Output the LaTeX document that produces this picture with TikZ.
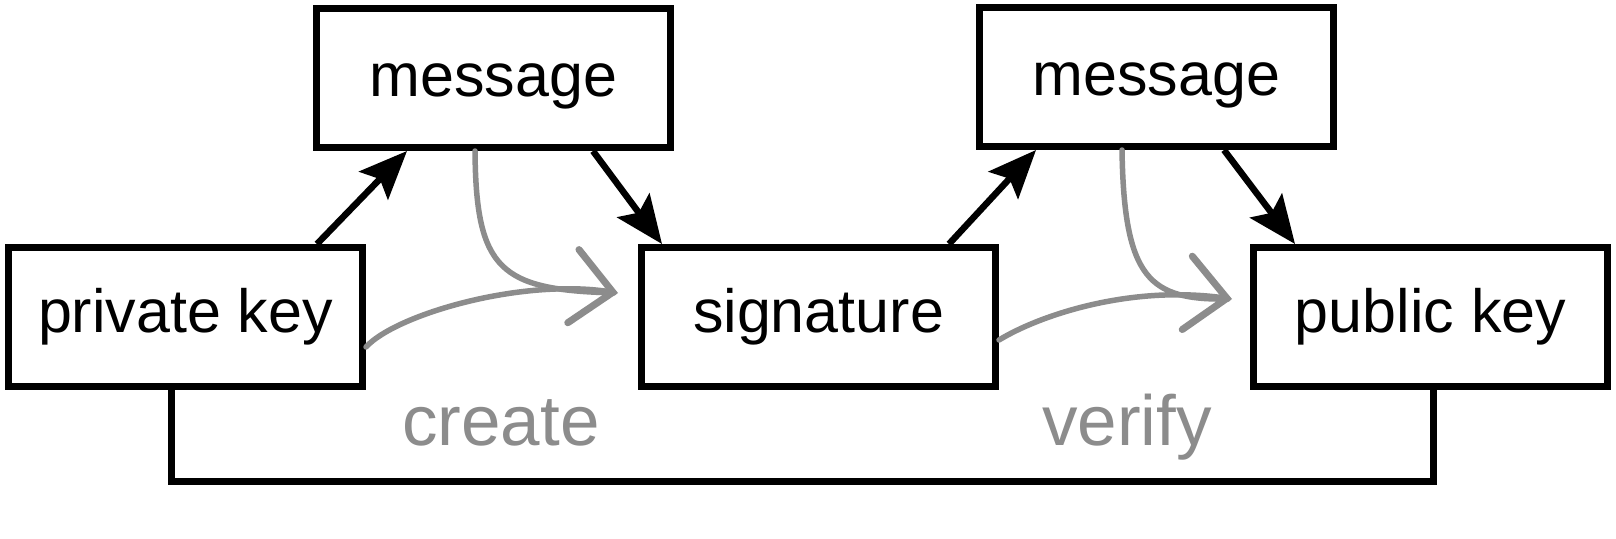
\documentclass[tikz,border=0pt]{standalone}
\usepackage{fontspec}
\setmainfont{Liberation Sans}
\usetikzlibrary{arrows.meta}
\definecolor{gcol}{RGB}{140,140,140}
\tikzset{
  boxnode/.style={draw=black, line width=7pt, minimum width=354pt, minimum height=139pt, inner sep=0pt,
    font=\fontsize{61}{70}\selectfont, text height=46pt, text depth=15pt},
  blackarrow/.style={line width=6.5pt, -{Stealth[length=48pt,width=40pt,inset=9pt]}},
  grayline/.style={draw=gcol, line width=5.5pt, line cap=round},
  grayarrow/.style={grayline, -{Straight Barb[length=40pt,width=74pt,line cap=round, line width=7pt]}},
  graylabel/.style={text=gcol, font=\fontsize{71}{80}\selectfont, anchor=base, inner sep=0pt},
  frameline/.style={line width=7pt}
}
\begin{document}
\begin{tikzpicture}[x=1pt,y=1pt]
\useasboundingbox (0,0) rectangle (1616,-538);
\fill[white] (0,0) rectangle (1616,-538);

\node[boxnode] (pk)   at (185.5,-317) {private key};
\node[boxnode, text height=50pt, text depth=14pt] (m1)   at (493.5,-78)  {message};
\node[boxnode] (sig)  at (818.5,-317) {signature};
\node[boxnode, text height=50pt, text depth=14pt] (m2)   at (1156.5,-77) {message};
\node[boxnode] (pubk) at (1430.5,-317) {public key};

% black arrows
\draw[blackarrow] ([xshift=131.5pt]pk.north) -- ([xshift=-86.5pt]m1.south);
\draw[blackarrow] ([xshift=99.5pt]m1.south) -- ([xshift=-156.5pt]sig.north);
\draw[blackarrow] ([xshift=130.5pt]sig.north) -- ([xshift=-120.5pt]m2.south);
\draw[blackarrow] ([xshift=67.5pt]m2.south) -- ([xshift=-135.5pt]pubk.north);

% frame line below
\draw[frameline] ([xshift=-14.5pt]pk.south) -- ++(0,-91.5) -| ([xshift=2.5pt]pubk.south);

% gray create curves
\coordinate (ctip) at (618,-293);
\draw[grayline, shorten >=4pt] ([xshift=-18.5pt]m1.south) .. controls (476,-270) and (500,-290) .. (ctip);
\draw[grayarrow] ([yshift=-30pt]pk.east) .. controls (395,-315) and (520,-278) .. (ctip);

% gray verify curves
\coordinate (vtip) at (1232,-299);
\draw[grayline, shorten >=4pt] ([xshift=-34.5pt]m2.south) .. controls (1124,-280) and (1150,-300) .. (vtip);
\draw[grayarrow] ([yshift=-23pt]sig.east) .. controls (1040,-315) and (1130,-285) .. (vtip);

\node[graylabel] (create) at (501,-445) {create};
\node[graylabel] (verify) at (1127,-445) {verify};
\end{tikzpicture}
\end{document}
